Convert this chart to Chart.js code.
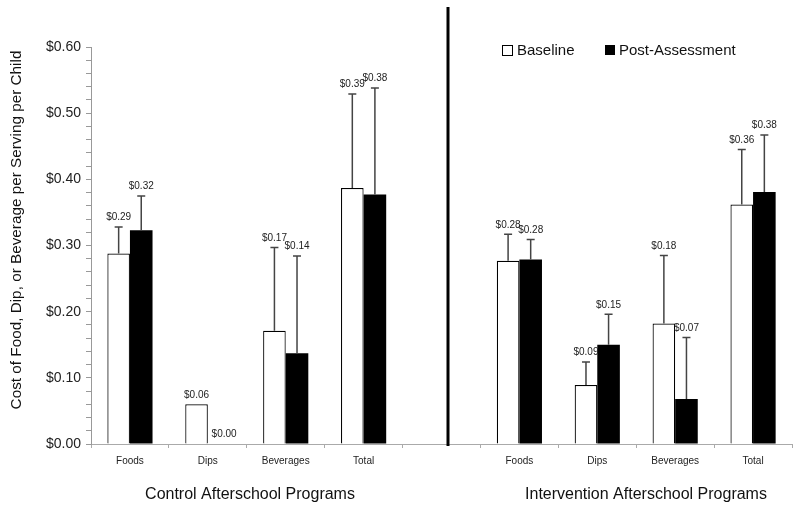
<!DOCTYPE html>
<html>
<head>
<meta charset="utf-8">
<title>Cost per serving per child</title>
<script src="https://cdn.jsdelivr.net/npm/chart.js@4/dist/chart.umd.min.js"></script>
<style>
  html, body { margin: 0; padding: 0; background: #fff; }
  #chart { display: block; }
</style>
</head>
<body>
<canvas id="chart" width="800" height="512"></canvas>
<script>
// ---- Data ----
// one category axis; the empty slot separates the two program groups
const categories = ['Foods', 'Dips', 'Beverages', 'Total', '', 'Foods', 'Dips', 'Beverages', 'Total'];
const baseline = [0.288, 0.060, 0.171, 0.387, null, 0.277, 0.089, 0.182, 0.362];
const post = [0.323, 0.000, 0.137, 0.377, null, 0.279, 0.150, 0.068, 0.381];
// top of the (upper-only) error bars
const baselineUpper = [0.328, null, 0.297, 0.529, null, 0.317, 0.124, 0.285, 0.445];
const postUpper = [0.375, null, 0.284, 0.538, null, 0.309, 0.196, 0.161, 0.467];
const baselineLabels = ['$0.29', '$0.06', '$0.17', '$0.39', '', '$0.28', '$0.09', '$0.18', '$0.36'];
const postLabels = ['$0.32', '$0.00', '$0.14', '$0.38', '', '$0.28', '$0.15', '$0.07', '$0.38'];
const seriesNames = ['Baseline', 'Post-Assessment'];
const groupNames = ['Control Afterschool Programs', 'Intervention Afterschool Programs'];
const yTitle = 'Cost of Food, Dip, or Beverage per Serving per Child';
const yMin = 0, yMax = 0.6, yMinorStep = 0.02, yMajorStep = 0.1;

const FONT = '"Liberation Sans", Arial, Helvetica, sans-serif';
Chart.defaults.font.family = FONT;
Chart.defaults.color = '#222';

// ---- Extras: error bars, value labels, divider, legend, titles ----
const extras = {
  id: 'extras',
  afterDatasetsDraw(chart) {
    const { ctx, scales: { x, y } } = chart;
    const uppers = [baselineUpper, postUpper];
    const labels = [baselineLabels, postLabels];
    const values = [baseline, post];

    ctx.save();
    for (let d = 0; d < 2; d++) {
      const meta = chart.getDatasetMeta(d);
      meta.data.forEach((bar, i) => {
        if (values[d][i] == null) return;
        const cx = bar.x;
        let topY = y.getPixelForValue(values[d][i]);
        if (uppers[d][i] != null) {
          const yu = y.getPixelForValue(uppers[d][i]);
          ctx.strokeStyle = '#444';
          ctx.lineWidth = 1.5;
          ctx.beginPath();
          ctx.moveTo(cx, topY);
          ctx.lineTo(cx, yu);
          ctx.moveTo(cx - 4, yu);
          ctx.lineTo(cx + 4, yu);
          ctx.stroke();
          topY = yu;
        }
        ctx.fillStyle = '#222';
        ctx.font = '10px ' + FONT;
        ctx.textAlign = 'center';
        ctx.textBaseline = 'middle';
        ctx.fillText(labels[d][i], cx + (d === 1 && values[d][i] === 0 ? 5 : 0), topY - 9.5);
      });
    }
    ctx.restore();
  },
  afterDraw(chart) {
    const { ctx, chartArea } = chart;
    ctx.save();

    // divider between the two program groups
    ctx.strokeStyle = '#000';
    ctx.lineWidth = 3;
    ctx.beginPath();
    ctx.moveTo(448, 7);
    ctx.lineTo(448, chartArea.bottom + 2);
    ctx.stroke();

    // legend
    ctx.lineWidth = 1;
    ctx.fillStyle = '#fff';
    ctx.fillRect(502.5, 45.5, 10, 10);
    ctx.strokeStyle = '#000';
    ctx.strokeRect(502.5, 45.5, 10, 10);
    ctx.fillStyle = '#000';
    ctx.fillRect(605, 45, 10, 10);
    ctx.font = '15px ' + FONT;
    ctx.textAlign = 'left';
    ctx.textBaseline = 'middle';
    ctx.fillStyle = '#111';
    ctx.fillText(seriesNames[0], 517, 51);
    ctx.fillText(seriesNames[1], 619, 51);

    // group captions
    ctx.font = '16px ' + FONT;
    ctx.textAlign = 'center';
    ctx.fillText(groupNames[0], 250, 495);
    ctx.fillText(groupNames[1], 646, 495);

    // y axis title
    ctx.font = '15.3px ' + FONT;
    ctx.translate(17, 230);
    ctx.rotate(-Math.PI / 2);
    ctx.fillText(yTitle, 0, 0);
    ctx.restore();
  }
};

new Chart(document.getElementById('chart'), {
  type: 'bar',
  data: {
    labels: categories,
    datasets: [
      {
        label: seriesNames[0],
        data: baseline,
        backgroundColor: '#fff',
        borderColor: '#000',
        borderWidth: 1.2,
        categoryPercentage: 0.58,
        barPercentage: 1.0
      },
      {
        label: seriesNames[1],
        data: post,
        backgroundColor: '#000',
        borderColor: '#000',
        borderWidth: 0,
        categoryPercentage: 0.58,
        barPercentage: 1.0
      }
    ]
  },
  options: {
    responsive: false,
    animation: false,
    devicePixelRatio: 1,
    layout: { padding: { top: 47, right: 8, left: 0, bottom: 0 } },
    plugins: {
      legend: { display: false },
      tooltip: { enabled: false }
    },
    scales: {
      x: {
        grid: { offset: true, drawOnChartArea: false, tickLength: 4, color: '#aaa' },
        border: { color: '#aaa', width: 1 },
        ticks: { font: { size: 10 }, color: '#222', padding: 7, maxRotation: 0, autoSkip: false },
        afterFit(scale) { scale.height = 68; }
      },
      y: {
        min: yMin,
        max: yMax,
        grid: { drawOnChartArea: false, tickLength: 5, color: '#999' },
        border: { color: '#999', width: 1 },
        ticks: {
          stepSize: yMinorStep,
          autoSkip: false,
          font: { size: 14 },
          color: '#222',
          padding: 5,
          callback(v) {
            const r = Math.round(v / yMajorStep * 1000) / 1000;
            return Number.isInteger(r) ? '$' + v.toFixed(2) : '';
          }
        },
        afterFit(scale) { scale.width = 91; }
      }
    }
  },
  plugins: [extras]
});
</script>
</body>
</html>
